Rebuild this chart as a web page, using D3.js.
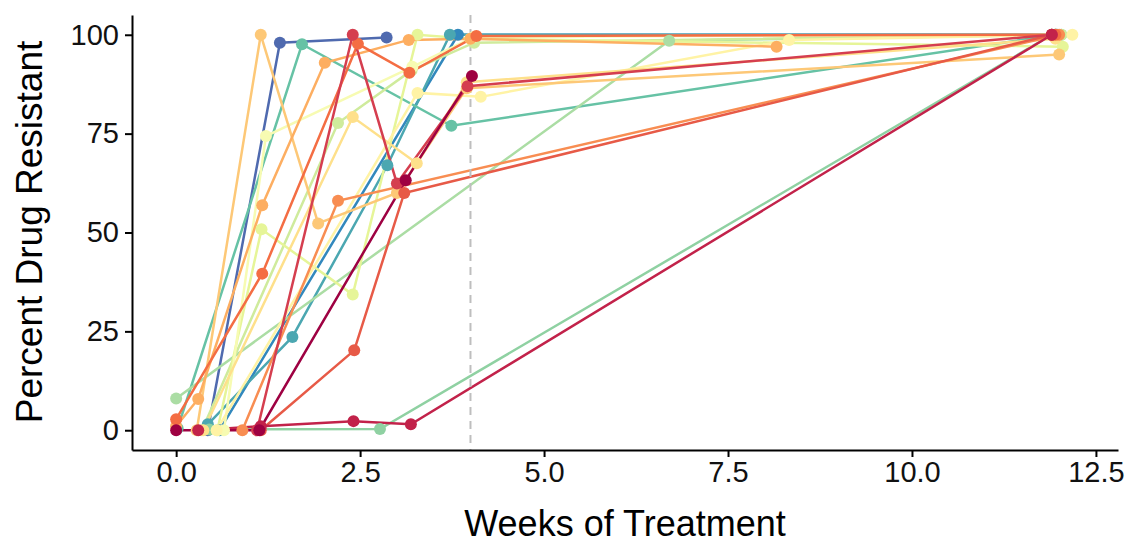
<!DOCTYPE html>
<html>
<head>
<script src="https://d3js.org/d3.v7.min.js"></script>
<style>
    body { margin: 0; background: #fff; }
    text { font-family: "Liberation Sans", Arial, sans-serif; }
</style>
</head>
<body>
<script>
// one entry per culture, drawn blue first so the reds end up on top
var seriesNames = ['s01', 's02', 's03', 's04', 's05', 's06', 's07', 's08', 's09', 's10',
                   's11', 's12', 's13', 's14', 's15', 's16', 's17', 's18', 's19'];
var seriesColors = ['#4f6aaf', '#3288bd', '#4ba7b1', '#66c2a5', '#8fd1a2', '#abdda4', '#cfeb9c',
                    '#e6f598', '#f7fbb2', '#fff3a5', '#fee08b', '#fdc877', '#fdae61', '#f88d52',
                    '#f46d43', '#e75a47', '#d53e4f', '#c2224a', '#9e0142'];

var weeks = [
    [0.43, 1.41, 2.86],
    [0.59, 3.83, 11.97],
    [0.43, 1.58, 2.87, 3.72, 11.95],
    [0.02, 1.71, 3.74, 11.95],
    [0.45, 2.77, 11.9],
    [0.0, 6.7, 12.03],
    [0.35, 2.2, 3.2, 4.05, 12.03],
    [0.56, 1.16, 2.4, 3.28, 4.0, 12.05],
    [0.65, 1.22, 3.21, 4.05, 11.95],
    [0.55, 3.28, 4.14, 8.33, 12.18],
    [0.37, 2.4, 3.27, 3.95, 11.95],
    [0.28, 1.15, 1.93, 3.0, 3.95, 12.0],
    [0.0, 0.3, 1.17, 2.02, 3.16, 4.0, 8.16],
    [0.9, 2.2, 12.0],
    [0.0, 1.17, 2.47, 3.17, 4.08, 11.95],
    [1.15, 2.42, 3.1, 11.9],
    [1.1, 2.4, 3.0, 3.96, 11.9],
    [0.3, 1.15, 2.41, 3.19, 11.9],
    [0.0, 1.13, 3.12, 4.02]
];

var resistant = [
    [0, 98, 99.3],
    [0, 100, 100],
    [1.5, 23.6, 67, 100, 100],
    [0.5, 97.6, 77, 100],
    [0.2, 0.3, 100],
    [8, 98.5, 100],
    [0, 77.7, 91, 98, 100],
    [0, 50.8, 34.3, 100, 99, 97],
    [0, 74.4, 91.9, 99.5, 100],
    [0, 85.3, 84.3, 98.7, 100],
    [0, 79.2, 67.5, 88, 99],
    [0, 100, 52.3, 60, 86.5, 95],
    [1, 7.9, 56.9, 92.9, 98.7, 99, 97],
    [0, 58, 100],
    [2.8, 39.6, 97.7, 90.4, 99.7, 100],
    [0, 20.2, 60, 100],
    [0, 100, 62.4, 87, 100],
    [0, 1, 2.3, 1.5, 100],
    [0, 0, 63.2, 89.6]
];

var xTicks = [0, 2.5, 5, 7.5, 10, 12.5];
var yTicks = [0, 25, 50, 75, 100];
var cutoffWeek = 4;
var xTitle = 'Weeks of Treatment';
var yTitle = 'Percent Drug Resistant';

var width = 1129;
var height = 544;

var svg = d3.select('body')
    .append('svg')
    .attr('width', width)
    .attr('height', height);

// scales (ggplot-style 5% padding)
var x = d3.scaleLinear()
    .domain([-0.6, 12.8])
    .range([132, 1118]);

var y = d3.scaleLinear()
    .domain([-5, 105])
    .range([450, 15]);

var series = seriesNames.map(function (name, i) {
    return {
        name: name,
        color: seriesColors[i],
        points: weeks[i].map(function (w, j) { return { w: w, p: resistant[i][j] }; })
    };
});

var line = d3.line()
    .x(d => x(d.w))
    .y(d => y(d.p));

// lines
svg.append('g')
    .selectAll('path')
    .data(series)
    .enter()
    .append('path')
    .attr('d', d => line(d.points))
    .attr('fill', 'none')
    .attr('stroke', d => d.color)
    .attr('stroke-width', 2.5);

// treatment cutoff
svg.append('line')
    .attr('x1', x(cutoffWeek))
    .attr('x2', x(cutoffWeek))
    .attr('y1', y(105))
    .attr('y2', y(-5))
    .attr('stroke', '#bebebe')
    .attr('stroke-width', 2)
    .attr('stroke-dasharray', '8,6');

// points
svg.append('g')
    .selectAll('g')
    .data(series)
    .enter()
    .append('g')
    .attr('fill', d => d.color)
    .selectAll('circle')
    .data(d => d.points)
    .enter()
    .append('circle')
    .attr('cx', d => x(d.w))
    .attr('cy', d => y(d.p))
    .attr('r', 6);

// axes
var xAxis = d3.axisBottom(x)
    .tickValues(xTicks)
    .tickFormat(d3.format('.1f'))
    .tickSizeInner(7)
    .tickSizeOuter(0)
    .tickPadding(4);

var yAxis = d3.axisLeft(y)
    .tickValues(yTicks)
    .tickSizeInner(7)
    .tickSizeOuter(0)
    .tickPadding(6);

var gx = svg.append('g')
    .attr('transform', 'translate(0,' + 450 + ')')
    .call(xAxis);

var gy = svg.append('g')
    .attr('transform', 'translate(132,0)')
    .call(yAxis);

[gx, gy].forEach(function (g) {
    g.selectAll('path, line').attr('stroke', '#000').attr('stroke-width', 2);
    g.selectAll('text').attr('font-size', 29).attr('fill', '#111');
});

svg.append('text')
    .attr('x', 625)
    .attr('y', 536)
    .attr('text-anchor', 'middle')
    .attr('font-size', 36)
    .attr('fill', '#000')
    .text(xTitle);

svg.append('text')
    .attr('transform', 'translate(42,232) rotate(-90)')
    .attr('text-anchor', 'middle')
    .attr('font-size', 37)
    .attr('fill', '#000')
    .text(yTitle);
</script>
</body>
</html>
